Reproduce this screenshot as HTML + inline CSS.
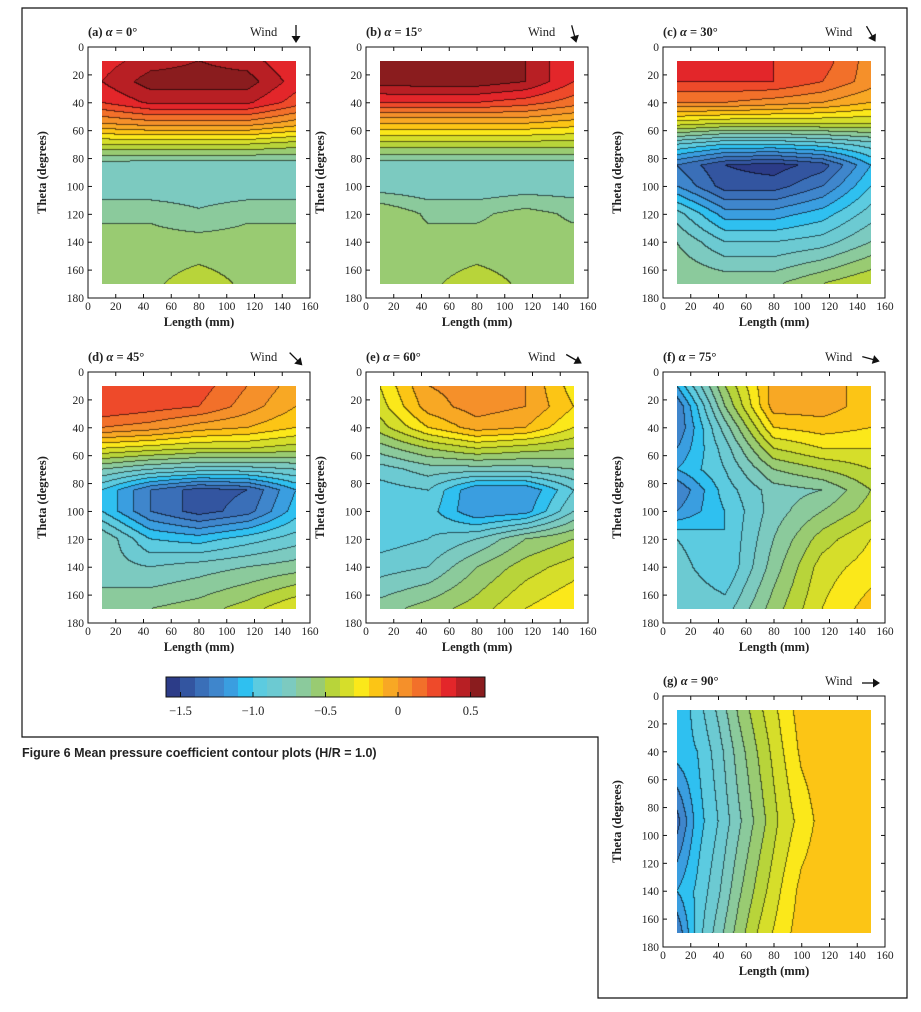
<!DOCTYPE html>
<html><head><meta charset="utf-8">
<style>
body{margin:0;background:#fff;}
#root{position:relative;width:921px;height:1012px;overflow:hidden;background:#fff;}
canvas{position:absolute;}
svg{position:absolute;left:0;top:0;}
text{font-family:"Liberation Serif",serif;fill:#222;}
</style></head>
<body>
<div id="root">
<svg id="svg" width="921" height="1012"></svg>
</div>
<script>
// ---- data ----
const gridXs = [10,45,80,115,150];
const gridTs = [10,25,40,55,70,85,100,120,140,170];
const cpA = [
[0.35,0.45,0.5,0.45,0.3],[0.4,0.55,0.55,0.55,0.35],[0.3,0.42,0.42,0.42,0.25],[0.0,0.05,0.05,0.05,-0.05],
[-0.4,-0.4,-0.4,-0.4,-0.45],[-0.76,-0.78,-0.78,-0.78,-0.76],[-0.78,-0.78,-0.78,-0.78,-0.78],
[-0.62,-0.62,-0.68,-0.62,-0.62],[-0.56,-0.56,-0.56,-0.56,-0.56],[-0.56,-0.52,-0.45,-0.52,-0.56]];
const cpB = [
[0.55,0.56,0.56,0.5,0.3],[0.55,0.56,0.56,0.5,0.3],[0.3,0.3,0.3,0.25,0.15],[-0.1,-0.1,-0.1,-0.1,-0.15],
[-0.45,-0.45,-0.45,-0.45,-0.45],[-0.76,-0.76,-0.76,-0.76,-0.76],[-0.76,-0.78,-0.78,-0.76,-0.76],
[-0.5,-0.62,-0.62,-0.56,-0.62],[-0.56,-0.56,-0.56,-0.56,-0.56],[-0.56,-0.52,-0.45,-0.52,-0.56]];
const cpC = [
[0.3,0.3,0.3,0.25,0.05],[0.3,0.3,0.3,0.2,0.05],[0.1,0.1,0.05,0.0,-0.1],[-0.35,-0.4,-0.4,-0.4,-0.4],
[-0.9,-1.0,-1.0,-0.95,-0.85],[-1.3,-1.5,-1.55,-1.45,-1.1],[-1.2,-1.45,-1.45,-1.3,-1.0],
[-0.85,-1.15,-1.15,-1.05,-0.85],[-0.7,-0.9,-0.9,-0.85,-0.7],[-0.6,-0.62,-0.62,-0.5,-0.4]];
const cpD = [
[0.3,0.3,0.25,0.1,-0.05],[0.3,0.25,0.2,0.05,-0.1],[0.1,0.05,-0.05,-0.1,-0.2],[-0.3,-0.35,-0.4,-0.4,-0.45],
[-0.7,-0.8,-0.85,-0.85,-0.8],[-1.0,-1.3,-1.45,-1.4,-1.1],[-1.0,-1.3,-1.45,-1.35,-1.05],
[-0.7,-1.0,-1.05,-0.95,-0.85],[-0.75,-0.8,-0.75,-0.7,-0.65],[-0.65,-0.6,-0.55,-0.45,-0.3]];
const cpE = [
[-0.3,0.0,0.05,0.0,-0.25],[-0.35,-0.05,0.05,0.0,-0.2],[-0.45,-0.2,-0.05,-0.1,-0.3],[-0.65,-0.5,-0.4,-0.45,-0.5],
[-0.85,-0.75,-0.75,-0.75,-0.7],[-0.95,-0.9,-1.2,-1.2,-0.9],[-0.95,-0.95,-1.2,-1.15,-0.8],
[-0.95,-0.9,-0.8,-0.6,-0.5],[-0.85,-0.8,-0.6,-0.45,-0.35],[-0.65,-0.55,-0.45,-0.3,-0.2]];
const cpF = [
[-1.1,-0.5,-0.05,-0.05,-0.15],[-1.3,-0.6,-0.05,-0.05,-0.15],[-1.3,-0.75,-0.2,-0.15,-0.2],[-1.2,-0.85,-0.4,-0.3,-0.3],
[-1.1,-0.9,-0.6,-0.5,-0.4],[-1.3,-0.95,-0.75,-0.7,-0.5],[-1.2,-1.0,-0.75,-0.6,-0.45],
[-0.9,-1.0,-0.7,-0.45,-0.3],[-0.85,-1.0,-0.65,-0.35,-0.25],[-0.8,-0.85,-0.55,-0.3,-0.15]];
const gXs = [10,25,40,55,70,85,100,120,150];
const gTs = [10,40,90,140,170];
const cpG = [
[-1.1,-0.95,-0.78,-0.58,-0.42,-0.28,-0.15,-0.12,-0.12],
[-1.05,-1.0,-0.85,-0.65,-0.48,-0.32,-0.18,-0.12,-0.12],
[-1.35,-1.05,-0.9,-0.72,-0.55,-0.38,-0.26,-0.13,-0.12],
[-1.1,-0.98,-0.82,-0.62,-0.45,-0.3,-0.17,-0.12,-0.12],
[-1.3,-0.95,-0.75,-0.55,-0.38,-0.25,-0.15,-0.12,-0.12]];
const xTicks = [0,20,40,60,80,100,120,140,160];
const yTicks = [0,20,40,60,80,100,120,140,160,180];
const cbTicks = [-1.5,-1.0,-0.5,0,0.5];
const cbTickLabels = ["\u22121.5","\u22121.0","\u22120.5","0","0.5"];

const palette = ["#2c3c88","#3355a0","#3a6fb8","#3f86cc","#3a9ee0","#2fc0f0","#5ccbe0","#6ccad2","#7ccac0","#8bca9c","#99cb72","#b8d43a","#d6de2a","#fbe81a","#fcc515","#f8a824","#f5902a","#f2702a","#ee4a2a","#e3262a","#b81f24","#8a1c1e"];
function levelOf(v){let i=Math.floor((v+1.6)/0.1+1e-9);return Math.max(0,Math.min(palette.length-1,i));}
function hex(c){return [parseInt(c.slice(1,3),16),parseInt(c.slice(3,5),16),parseInt(c.slice(5,7),16)];}
const rgbPal = palette.map(hex);

const panels = [
 {id:"a",label:"(a)",alpha:0,ox:88,oy:47,xs:gridXs,ts:gridTs,v:cpA},
 {id:"b",label:"(b)",alpha:15,ox:366,oy:47,xs:gridXs,ts:gridTs,v:cpB},
 {id:"c",label:"(c)",alpha:30,ox:663,oy:47,xs:gridXs,ts:gridTs,v:cpC},
 {id:"d",label:"(d)",alpha:45,ox:88,oy:372,xs:gridXs,ts:gridTs,v:cpD},
 {id:"e",label:"(e)",alpha:60,ox:366,oy:372,xs:gridXs,ts:gridTs,v:cpE},
 {id:"f",label:"(f)",alpha:75,ox:663,oy:372,xs:gridXs,ts:gridTs,v:cpF},
 {id:"g",label:"(g)",alpha:90,ox:663,oy:696,xs:gXs,ts:gTs,v:cpG}
];
const W=222,H=251;
const svg=document.getElementById('svg');
const root=document.getElementById('root');
const NS="http://www.w3.org/2000/svg";
function mk(tag,attrs,parent){const e=document.createElementNS(NS,tag);for(const k in attrs)e.setAttribute(k,attrs[k]);(parent||svg).appendChild(e);return e;}
function findIdx(arr,v){for(let i=0;i<arr.length-1;i++){if(v<=arr[i+1])return i;}return arr.length-2;}
function interp(p,x,t){
 const i=findIdx(p.xs,x),j=findIdx(p.ts,t);
 const fx=Math.max(0,Math.min(1,(x-p.xs[i])/(p.xs[i+1]-p.xs[i])));
 const ft=Math.max(0,Math.min(1,(t-p.ts[j])/(p.ts[j+1]-p.ts[j])));
 const a=p.v[j][i],b=p.v[j][i+1],c=p.v[j+1][i],d=p.v[j+1][i+1];
 return (a*(1-fx)+b*fx)*(1-ft)+(c*(1-fx)+d*fx)*ft;
}

const frame=mk('path',{d:"M22,8 H907 V998 H598 V737 H22 Z",fill:"none",stroke:"#111","stroke-width":"1.2"});



panels.forEach(p=>{
 const sx=v=>p.ox+v/160*W, sy=t=>p.oy+t/180*H;
 const g=mk('g',{});
 
 
 const x0=sx(10),y0=sy(10),cw=Math.round(sx(150)-x0),ch=Math.round(sy(170)-y0);
 const cv=document.createElement('canvas');
 cv.width=cw;cv.height=ch;cv.style.left=x0+'px';cv.style.top=y0+'px';
 
 
 root.insertBefore(cv,svg);
 const ctx=cv.getContext('2d');const img=ctx.createImageData(cw,ch);
 const lv=new Int16Array(cw*ch);
 for(let py=0;py<ch;py++)for(let px=0;px<cw;px++){
  const x=10+(px+0.5)/cw*140,t=10+(py+0.5)/ch*160;
  lv[py*cw+px]=levelOf(interp(p,x,t));
 }
 for(let py=0;py<ch;py++)for(let px=0;px<cw;px++){
  const k=py*cw+px,l=lv[k];let c=rgbPal[l];
  const edge=(px<cw-1&&lv[k+1]!==l)||(py<ch-1&&lv[k+cw]!==l);
  if(edge)c=[Math.round(c[0]*0.4),Math.round(c[1]*0.4),Math.round(c[2]*0.4)];
  img.data[k*4]=c[0];img.data[k*4+1]=c[1];img.data[k*4+2]=c[2];img.data[k*4+3]=255;
 }
 ctx.putImageData(img,0,0);
 const box=mk('rect',{x:p.ox,y:p.oy,width:W,height:H,fill:"none",stroke:"#111","stroke-width":"1"},g);
 
 
 xTicks.forEach(v=>{
  mk('line',{x1:sx(v),x2:sx(v),y1:p.oy,y2:p.oy+4,stroke:"#111"},g);
  mk('line',{x1:sx(v),x2:sx(v),y1:p.oy+H,y2:p.oy+H-4,stroke:"#111"},g);
  const tl=mk('text',{x:sx(v),y:p.oy+H+12,"font-size":"11.5","text-anchor":"middle"},g);tl.textContent=v;
  
  
 });
 yTicks.forEach(v=>{
  mk('line',{x1:p.ox,x2:p.ox+4,y1:sy(v),y2:sy(v),stroke:"#111"},g);
  mk('line',{x1:p.ox+W,x2:p.ox+W-4,y1:sy(v),y2:sy(v),stroke:"#111"},g);
  const tl=mk('text',{x:p.ox-4,y:sy(v)+4,"font-size":"11.5","text-anchor":"end"},g);tl.textContent=v;
  
  
 });
 const xl=mk('text',{x:p.ox+W/2,y:p.oy+H+28,"font-size":"12.5","font-weight":"bold","text-anchor":"middle"},g);xl.textContent="Length (mm)";
 
 
 const yl=mk('text',{x:0,y:0,"font-size":"12.5","font-weight":"bold","text-anchor":"middle",transform:`translate(${p.ox-42},${p.oy+H/2}) rotate(-90)`},g);yl.textContent="Theta (degrees)";
 
 
 const tt=mk('text',{x:p.ox,y:p.oy-11,"font-size":"12.5","font-weight":"bold"},g);
 tt.innerHTML=p.label+' <tspan font-style="italic">\u03b1</tspan> = '+p.alpha+'\u00b0';
 
 
 const wt=mk('text',{x:p.ox+162,y:p.oy-11,"font-size":"12.5"},g);wt.textContent="Wind";
 
 
 const ag=mk('g',{transform:`translate(${p.ox+208},${p.oy-13}) rotate(${-p.alpha})`},g);
 
 
 mk('line',{x1:0,y1:-9,x2:0,y2:4,stroke:"#111","stroke-width":"1.3"},ag);
 mk('path',{d:"M-4.5,2 L4.5,2 L0,9 Z",fill:"#111"},ag);
});

const cbX=166,cbY=677,cbW=319,cbH=20,cbMin=-1.6,cbMax=0.6;
const cbx=v=>cbX+(v-cbMin)/(cbMax-cbMin)*cbW;
const cb=mk('g',{});


for(let i=0;i<cbW;i++){
 const v=cbMin+(i+0.5)/cbW*(cbMax-cbMin);
 mk('rect',{x:cbX+i,y:cbY,width:1.3,height:cbH,fill:palette[levelOf(v)]},cb);
}
mk('rect',{x:cbX,y:cbY,width:cbW,height:cbH,fill:"none",stroke:"#111"},cb);
cbTicks.forEach((v,i)=>{
 mk('line',{x1:cbx(v),x2:cbx(v),y1:cbY+cbH,y2:cbY+cbH-5,stroke:"#111"},cb);
 const t=mk('text',{x:cbx(v),y:cbY+cbH+18,"font-size":"12.5","text-anchor":"middle"},cb);t.textContent=cbTickLabels[i];
 
 
});
const cap=mk('text',{x:22,y:757,"font-size":"12.5","font-weight":"bold",style:"font-family:'Liberation Sans',sans-serif"});
cap.textContent='Figure 6 Mean pressure coefficient contour plots (H/R = 1.0)';


</script>
</body></html>
